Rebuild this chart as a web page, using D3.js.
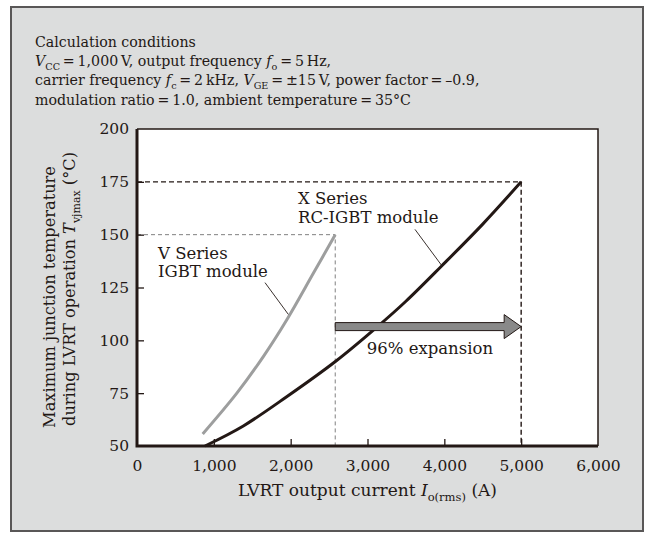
<!DOCTYPE html>
<html>
<head>
<meta charset="utf-8">
<script src="https://cdn.jsdelivr.net/npm/d3@7/dist/d3.min.js"></script>
<style>
  body { margin: 0; background: #ffffff; }
  svg text { font-family: "DejaVu Serif", "Liberation Serif", serif; fill: #231815; }
</style>
</head>
<body>
<div id="chart"></div>
<script>
// ---- data ----
var xTicks = [0, 1000, 2000, 3000, 4000, 5000, 6000];
var yTicks = [50, 75, 100, 125, 150, 175, 200];

// V Series IGBT module (grey curve)
var vSeriesCurrent = [855, 1297, 1644, 1948, 2295, 2580];
var vSeriesTemp    = [55.7, 74.9, 92.3, 109.6, 131.7, 150];

// X Series RC-IGBT module (black curve)
var xSeriesCurrent = [885, 1384, 1948, 2586, 3130, 3500, 3965, 4500, 5000];
var xSeriesTemp    = [50, 59.5, 73.3, 90.1, 106.5, 118.5, 135.2, 155, 175];

// limit markers and the expansion arrow
var vLimit = {current: 2580, temp: 150};
var xLimit = {current: 5000, temp: 175};
var arrowSpan = {from: 2580, to: 5000, temp: 106.5};

var sp = "\u2009"; // thin space, as in the printed conditions
var conditionLines = [
  [{t: "Calculation conditions"}],
  [{t: "V", i: true}, {t: "CC", s: true}, {t: sp + "=" + sp + "1,000" + sp + "V, output frequency "}, {t: "f", i: true}, {t: "o", s: true}, {t: sp + "=" + sp + "5" + sp + "Hz,"}],
  [{t: "carrier frequency "}, {t: "f", i: true}, {t: "c", s: true}, {t: sp + "=" + sp + "2" + sp + "kHz, "}, {t: "V", i: true}, {t: "GE", s: true}, {t: sp + "=" + sp + "\u00b115" + sp + "V, power factor" + sp + "=" + sp + "\u20130.9,"}],
  [{t: "modulation ratio" + sp + "=" + sp + "1.0, ambient temperature" + sp + "=" + sp + "35\u00b0C"}]
];

(function() {
  var W = 652, H = 534;
  var plot = {left: 137, right: 598, top: 129, bottom: 446};
  var ink = "#231815";

  var svg = d3.select("#chart").append("svg")
    .attr("width", W).attr("height", H);

  // outer panel
  svg.append("rect")
    .attr("x", 11).attr("y", 7)
    .attr("width", 632).attr("height", 524)
    .attr("fill", "#dcdddd")
    .attr("stroke", "#595757").attr("stroke-width", 2);

  // rich text helper (italic / subscript pieces)
  function rich(sel, parts, size) {
    var cur = 0;
    parts.forEach(function(p) {
      var shift = p.s ? size * 0.28 : 0;
      var ts = sel.append("tspan").text(p.t).attr("dy", shift - cur);
      cur = shift;
      if (p.i) ts.attr("font-style", "italic");
      if (p.s) ts.attr("font-size", size * 0.68);
    });
  }

  // calculation conditions
  conditionLines.forEach(function(line, k) {
    var t = svg.append("text")
      .attr("x", 35).attr("y", 46.5 + k * 19.4)
      .attr("font-size", 14.2);
    rich(t, line, 14.2);
  });

  var x = d3.scaleLinear().domain([0, 6000]).range([plot.left, plot.right]);
  var y = d3.scaleLinear().domain([50, 200]).range([plot.bottom, plot.top]);

  // plot background
  svg.append("rect")
    .attr("x", plot.left).attr("y", plot.top)
    .attr("width", plot.right - plot.left).attr("height", plot.bottom - plot.top)
    .attr("fill", "#ffffff");

  // thin top / right frame
  svg.append("path")
    .attr("d", "M" + plot.left + "," + plot.top + "H" + plot.right + "V" + plot.bottom)
    .attr("fill", "none").attr("stroke", ink).attr("stroke-width", 1.5);

  // dashed limit lines
  svg.append("path")
    .attr("d", d3.line()([[x(0), y(vLimit.temp)], [x(vLimit.current), y(vLimit.temp)], [x(vLimit.current), y(50)]]))
    .attr("fill", "none").attr("stroke", "#808080").attr("stroke-width", 1)
    .attr("stroke-dasharray", "4,3");
  svg.append("path")
    .attr("d", d3.line()([[x(0), y(xLimit.temp)], [x(xLimit.current), y(xLimit.temp)], [x(xLimit.current), y(50)]]))
    .attr("fill", "none").attr("stroke", ink).attr("stroke-width", 1.4)
    .attr("stroke-dasharray", "5,3");

  // axes: ticks pointing inward
  var xAxis = d3.axisBottom(x).tickValues(xTicks).tickSize(-7).tickPadding(14)
    .tickFormat(d3.format(","));
  var gx = svg.append("g").attr("transform", "translate(0," + plot.bottom + ")").call(xAxis);
  var yAxis = d3.axisLeft(y).tickValues(yTicks).tickSize(-7).tickPadding(8);
  var gy = svg.append("g").attr("transform", "translate(" + plot.left + ",0)").call(yAxis);
  [gx, gy].forEach(function(g) {
    g.select(".domain").remove();
    g.selectAll(".tick line").attr("stroke", ink).attr("stroke-width", 1.3);
    g.selectAll(".tick text").attr("font-size", 15.5).attr("fill", ink)
      .style("font-family", "'DejaVu Serif', serif");
  });
  gx.selectAll(".tick").filter(function(d) { return d === 0 || d === 6000; }).select("line").remove();
  gy.selectAll(".tick").filter(function(d) { return d === 50 || d === 200; }).select("line").remove();

  // thick left / bottom axis lines
  svg.append("path")
    .attr("d", "M" + plot.left + "," + plot.top + "V" + plot.bottom + "H" + plot.right)
    .attr("fill", "none").attr("stroke", ink).attr("stroke-width", 3);

  // curves
  var line = d3.line()
    .x(function(d) { return x(d[0]); })
    .y(function(d) { return y(d[1]); })
    .curve(d3.curveCatmullRom);
  svg.append("path")
    .attr("d", line(d3.zip(vSeriesCurrent, vSeriesTemp)))
    .attr("fill", "none").attr("stroke", "#9d9e9e").attr("stroke-width", 3);
  svg.append("path")
    .attr("d", line(d3.zip(xSeriesCurrent, xSeriesTemp)))
    .attr("fill", "none").attr("stroke", ink).attr("stroke-width", 3);

  // expansion arrow
  var ay = y(arrowSpan.temp), ax0 = x(arrowSpan.from), ax1 = x(arrowSpan.to);
  var headLen = 17, bodyHalf = 4, headHalf = 12;
  svg.append("path")
    .attr("d", d3.line()([
      [ax0, ay - bodyHalf], [ax1 - headLen, ay - bodyHalf], [ax1 - headLen, ay - headHalf],
      [ax1, ay], [ax1 - headLen, ay + headHalf], [ax1 - headLen, ay + bodyHalf], [ax0, ay + bodyHalf]
    ]) + "Z")
    .attr("fill", "#898989").attr("stroke", ink).attr("stroke-width", 1);

  // annotations
  var annSize = 16.5;
  function label(lines, px, py) {
    var t = svg.append("text").attr("x", px).attr("y", py).attr("font-size", annSize);
    lines.forEach(function(s, k) {
      t.append("tspan").attr("x", px).attr("y", py + k * 18.5).text(s);
    });
  }
  label(["V Series", "IGBT module"], x(273), y(138.5));
  label(["X Series", "RC-IGBT module"], x(2095), y(164.5));
  svg.append("text").attr("x", x(2990)).attr("y", y(93.5)).attr("font-size", annSize).text("96% expansion");

  // leader lines
  svg.append("line")
    .attr("x1", x(1666)).attr("y1", y(127.3)).attr("x2", x(1969)).attr("y2", y(112.3))
    .attr("stroke", ink).attr("stroke-width", 0.9);
  svg.append("line")
    .attr("x1", x(3618)).attr("y1", y(152.5)).attr("x2", x(3966)).attr("y2", y(135.4))
    .attr("stroke", ink).attr("stroke-width", 0.9);

  // axis titles
  var xt = svg.append("text").attr("x", (plot.left + plot.right) / 2).attr("y", 496)
    .attr("text-anchor", "middle").attr("font-size", 17);
  rich(xt, [{t: "LVRT output current "}, {t: "I", i: true}, {t: "o(rms)", s: true}, {t: " (A)"}], 17);

  var ySize = 16.2;
  var yt1 = svg.append("text").attr("transform", "translate(55,297) rotate(-90)")
    .attr("text-anchor", "middle").attr("font-size", ySize);
  rich(yt1, [{t: "Maximum junction temperature"}], ySize);
  var yt2 = svg.append("text").attr("transform", "translate(75,289) rotate(-90)")
    .attr("text-anchor", "middle").attr("font-size", ySize);
  rich(yt2, [{t: "during LVRT operation "}, {t: "T", i: true}, {t: "vjmax", s: true}, {t: " (\u00b0C)"}], ySize);
})();
</script>
</body>
</html>
